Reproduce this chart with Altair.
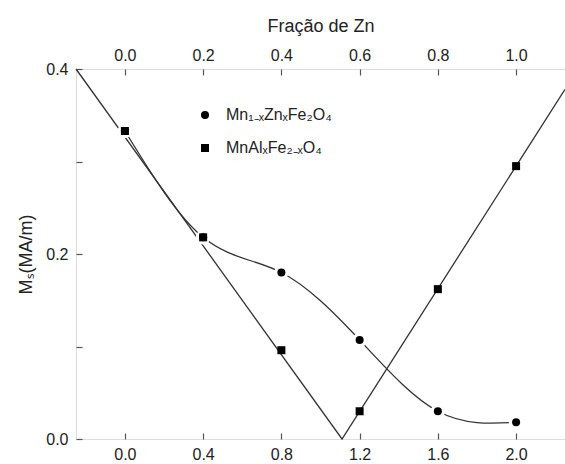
import altair as alt
import pandas as pd

# ---- data ----
al_x = [0.0, 0.4, 0.8, 1.2, 1.6, 2.0]            # bottom axis (Al content)
al_ms = [0.333, 0.218, 0.096, 0.030, 0.162, 0.295]
zn_x = [0.0, 0.2, 0.4, 0.6, 0.8, 1.0]            # top axis (Fração de Zn)
zn_ms = [0.333, 0.218, 0.180, 0.107, 0.030, 0.018]
fit_al_x = [-0.25, 1.11, 2.25]                   # V-shaped guide line (Al series)
fit_al_ms = [0.40, 0.0, 0.378]
curve_zn_x = [0.0, 0.2, 0.4, 0.6, 0.8, 1.0]      # smooth guide curve (Zn series)
curve_zn_ms = [0.333, 0.218, 0.180, 0.107, 0.030, 0.018]
bottom_ticks = [0.0, 0.4, 0.8, 1.2, 1.6, 2.0]
top_ticks = [0.0, 0.2, 0.4, 0.6, 0.8, 1.0]
y_ticks = [0.0, 0.1, 0.2, 0.3, 0.4]
series = ["Mn₁₋ₓZnₓFe₂O₄", "MnAlₓFe₂₋ₓO₄"]

FONT = "Liberation Sans"
W, H = 489, 370
TXT = "#222222"
LINE = "#333333"

sq_df = pd.DataFrame({"al": al_x, "ms": al_ms, "serie": series[1]})
ci_df = pd.DataFrame({"zn": zn_x, "ms": zn_ms, "serie": series[0]})
fit_df = pd.DataFrame({"al": fit_al_x, "ms": fit_al_ms})
cur_df = pd.DataFrame({"zn": curve_zn_x, "ms": curve_zn_ms})

y_scale = alt.Scale(domain=[0.0, 0.4], nice=False, zero=False)
al_scale = alt.Scale(domain=[-0.25, 2.25], nice=False, zero=False)
zn_scale = alt.Scale(domain=[-0.125, 1.125], nice=False, zero=False)

base_ax = dict(domain=False, grid=False, labelFont=FONT, labelFontSize=16,
               labelColor=TXT, titleFont=FONT, titleFontSize=18,
               titleColor=TXT, titleFontWeight="normal",
               tickColor="#555555", tickWidth=1.2)

# bottom axis labels + left axis labels/title
ax_bottom = alt.Axis(orient="bottom", values=bottom_ticks, format=".1f",
                     tickSize=0, labelPadding=7, title=None, **base_ax)
ax_left = alt.Axis(orient="left", values=y_ticks, tickSize=0, labelPadding=8,
                   labelExpr="indexof(['0.1','0.3'], format(datum.value,'.1f')) >= 0 ? '' : format(datum.value,'.1f')",
                   title="Mₛ(MA/m)", titlePadding=10, **base_ax)
# inward ticks for bottom and left
ax_bottom_in = alt.Axis(orient="top", offset=-H, values=bottom_ticks, labels=False,
                        tickSize=6, title=None, **base_ax)
ax_left_in = alt.Axis(orient="right", offset=-W, values=y_ticks, labels=False,
                      tickSize=6, title=None, **base_ax)
# top axis labels + title, and inward ticks
ax_top = alt.Axis(orient="top", values=top_ticks, format=".1f", tickSize=0,
                  labelPadding=6, title="Fração de Zn", titlePadding=12, **base_ax)
ax_top_in = alt.Axis(orient="bottom", offset=-H, values=top_ticks, labels=False,
                     tickSize=6, title=None, **base_ax)

shape_enc = alt.Shape(
    "serie:N",
    scale=alt.Scale(domain=series, range=["circle", "square"]),
    legend=alt.Legend(orient="none", legendX=121, legendY=38, title=None,
                      labelFont=FONT, labelFontSize=16, labelColor=TXT,
                      symbolSize=64, symbolFillColor="black",
                      symbolStrokeColor="black", symbolStrokeWidth=0,
                      symbolOpacity=1, rowPadding=17, labelOffset=13,
                      padding=0),
)

fit_line = alt.Chart(fit_df).mark_line(color=LINE, strokeWidth=1.3).encode(
    x=alt.X("al:Q", scale=al_scale, axis=ax_bottom),
    y=alt.Y("ms:Q", scale=y_scale, axis=ax_left),
)

curve = alt.Chart(cur_df).mark_line(color=LINE, strokeWidth=1.3,
                                     interpolate="natural").encode(
    x=alt.X("zn:Q", scale=zn_scale, axis=ax_top),
    y=alt.Y("ms:Q", scale=y_scale, axis=None),
)

halo = alt.Chart(ci_df).mark_point(filled=True, color="white", size=210,
                                    opacity=1, shape="circle").encode(
    x=alt.X("zn:Q", scale=zn_scale, axis=None),
    y=alt.Y("ms:Q", scale=y_scale, axis=None),
)

circles = alt.Chart(ci_df).mark_point(filled=True, color="black", size=64,
                                       opacity=1).encode(
    x=alt.X("zn:Q", scale=zn_scale, axis=ax_top_in),
    y=alt.Y("ms:Q", scale=y_scale, axis=None),
    shape=shape_enc,
)

squares = alt.Chart(sq_df).mark_point(filled=True, color="black", size=64,
                                       opacity=1).encode(
    x=alt.X("al:Q", scale=al_scale, axis=ax_bottom_in),
    y=alt.Y("ms:Q", scale=y_scale, axis=ax_left_in),
    shape=shape_enc,
)

chart = (
    alt.layer(fit_line, curve, halo, circles, squares)
    .resolve_scale(x="independent")
    .resolve_axis(x="independent", y="independent")
    .properties(width=W, height=H,
                padding={"left": 76, "top": 69, "right": 0, "bottom": 25},
                autosize=alt.AutoSizeParams(type="none"))
    .configure_view(stroke="#8a8a8a", strokeWidth=1.6)
    .configure(background="white")
)

chart.save("out.html", embed_options={"renderer": "svg", "actions": False})
